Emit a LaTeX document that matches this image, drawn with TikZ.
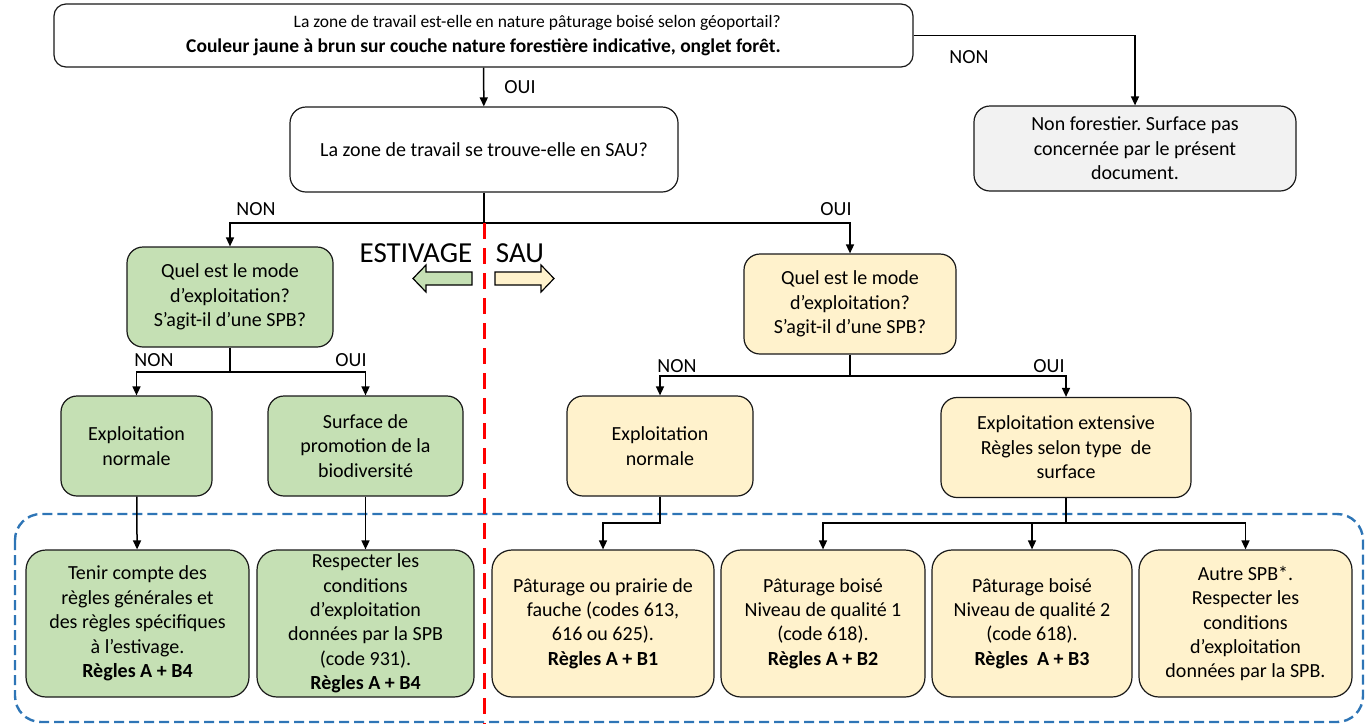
\documentclass[tikz,border=0pt]{standalone}
\usepackage{fontspec}
\setmainfont{Carlito}
\usetikzlibrary{arrows.meta}
\frenchspacing

\definecolor{greenfill}{RGB}{197,224,180}
\definecolor{yellowfill}{RGB}{255,242,204}
\definecolor{greyfill}{RGB}{242,242,242}
\definecolor{zoneblue}{RGB}{46,117,182}

\tikzset{
  box/.style={draw=black!90, line width=1.2pt, rounded corners=16pt, align=center,
    inner sep=2pt, font=\fontsize{20}{24.4}\selectfont},
  wh/.style 2 args={minimum width=#1pt, minimum height=#2pt},
  greenbox/.style={box, fill=greenfill},
  yellowbox/.style={box, fill=yellowfill},
  conn/.style={line width=1.5pt, -{Triangle[length=9pt,width=8pt]}},
  lbl/.style={inner sep=0pt, font=\fontsize{20}{24}\selectfont},
}

\begin{document}
\begin{tikzpicture}[x=1pt,y=-1pt]
    \useasboundingbox (0,0) rectangle (1372,724);

    % Zone of the rules
    \draw[zoneblue, line width=2.4pt, dash pattern=on 10pt off 5pt, rounded corners=26pt]
        (15,514) rectangle (1363,722);

    % Questions
    \node[box, wh={859}{63}, rounded corners=12pt, align=right] (foret) at (483.5,35.5)
        {\fontsize{17.5}{21}\selectfont La zone de travail est-elle en nature pâturage boisé selon géoportail?\\
         \fontsize{19.5}{21}\selectfont\textbf{Couleur jaune à brun sur couche nature forestière indicative, onglet forêt.}};
    \node[box, wh={388}{85}] (sau) at (484,149.5) {La zone de travail se trouve-elle en SAU?};
    \node[box, wh={322}{85}, fill=greyfill] (nonfor) at (1135,148.5)
        {Non forestier. Surface pas\\ concernée par le présent\\ document.};
    \node[greenbox, wh={206}{100}] (modeE) at (230,297)
        {Quel est le mode\\ d’exploitation?\\ S’agit-il d’une SPB?};
    \node[yellowbox, wh={212}{100}] (modeS) at (850,304)
        {Quel est le mode\\ d’exploitation?\\ S’agit-il d’une SPB?};

    % Modes of use
    \node[greenbox, wh={151}{100}] (normE) at (136.5,446) {Exploitation\\ normale};
    \node[greenbox, wh={195}{100}] (spbE) at (365.5,446) {Surface de\\ promotion de la\\ biodiversité};
    \node[yellowbox, wh={186}{100}] (normS) at (660,446) {Exploitation\\ normale};
    \node[yellowbox, wh={250}{100}] (extS) at (1066,447.5)
        {Exploitation extensive\\ Règles selon type\ \ de\\ surface};

    % Rules
    \node[greenbox, wh={223}{147}, rounded corners=20pt] (rg1) at (137.5,623.5)
        {Tenir compte des\\ règles générales et\\ des règles spécifiques\\ à l’estivage.\\ \textbf{Règles A + B4}};
    \node[greenbox, wh={217}{147}, rounded corners=20pt] (rg2) at (365.5,623.5)
        {Respecter les\\ conditions\\ d’exploitation\\ données par la SPB\\ (code 931).\\ \textbf{Règles A + B4}};
    \node[yellowbox, wh={222}{147}, rounded corners=20pt] (ry1) at (603,623.5)
        {Pâturage ou prairie de\\ fauche (codes 613,\\ 616 ou 625).\\ \textbf{Règles A + B1}};
    \node[yellowbox, wh={204}{147}, rounded corners=20pt] (ry2) at (823,623.5)
        {Pâturage boisé\\ Niveau de qualité 1\\ (code 618).\\ \textbf{Règles A + B2}};
    \node[yellowbox, wh={200}{147}, rounded corners=20pt] (ry3) at (1032,623.5)
        {Pâturage boisé\\ Niveau de qualité 2\\ (code 618).\\ \textbf{Règles\ \ A + B3}};
    \node[yellowbox, wh={213}{147}, rounded corners=20pt] (ry4) at (1245.5,623.5)
        {Autre SPB*.\\ Respecter les\\ conditions\\ d’exploitation\\ données par la SPB.};

    % Junctions
    \coordinate (jsau) at (484,223);
    \coordinate (jE) at (230,372);
    \coordinate (jS) at (850,376);
    \coordinate (jnorm) at (660,523);
    \coordinate (jext) at (1066,523);

    % Connectors
    \draw[conn] (foret) -- (sau);
    \draw[conn] (foret.east) -| (nonfor.north);
    \draw[line width=1.5pt] (sau.south) -- (jsau);
    \draw[conn] (jsau) -| (modeE.north);
    \draw[conn] (jsau) -| (modeS.north);
    \draw[line width=1.5pt] (modeE.south) -- (jE);
    \draw[conn] (jE) -| (normE.north);
    \draw[conn] (jE) -| (spbE.north);
    \draw[line width=1.5pt] (modeS.south) -- (jS);
    \draw[conn] (jS) -| (normS.north);
    \draw[conn] (jS) -| (extS.north);
    \draw[conn] (normE) -- (rg1);
    \draw[conn] (spbE) -- (rg2);
    \draw[conn] (normS.south) -- (jnorm) -| (ry1.north);
    \draw[line width=1.5pt] (extS.south) -- (jext);
    \draw[conn] (jext) -| (ry2.north);
    \draw[conn] (jext) -| (ry3.north);
    \draw[conn] (jext) -| (ry4.north);

    % Answers
    \node[lbl] (oui0) at (520,87) {OUI};
    \node[lbl] (non0) at (969,57.5) {NON};
    \node[lbl] (non1) at (256,209) {NON};
    \node[lbl] (oui1) at (836,209) {OUI};
    \node[lbl] (non2) at (154,360) {NON};
    \node[lbl] (oui2) at (351,360) {OUI};
    \node[lbl] (non3) at (677,366) {NON};
    \node[lbl] (oui3) at (1049,366) {OUI};

    % Border between summer pasture and SAU
    \draw[red, line width=3pt, dash pattern=on 16pt off 9pt] (jsau) -- (484,724);
    \node[anchor=base, inner sep=0pt, font=\fontsize{29}{30}\selectfont] (estiv) at (416,262) {ESTIVAGE};
    \node[anchor=base, inner sep=0pt, font=\fontsize{29}{30}\selectfont] (sauzone) at (520,262) {SAU};
    \draw[line width=1.2pt, fill=greenfill]
        (472,272) -- (426,272) -- (426,265) -- (413,278.5) -- (426,292) -- (426,285) -- (472,285) -- cycle;
    \draw[line width=1.2pt, fill=yellowfill]
        (495,272) -- (541,272) -- (541,265) -- (554,278.5) -- (541,292) -- (541,285) -- (495,285) -- cycle;
\end{tikzpicture}
\end{document}
